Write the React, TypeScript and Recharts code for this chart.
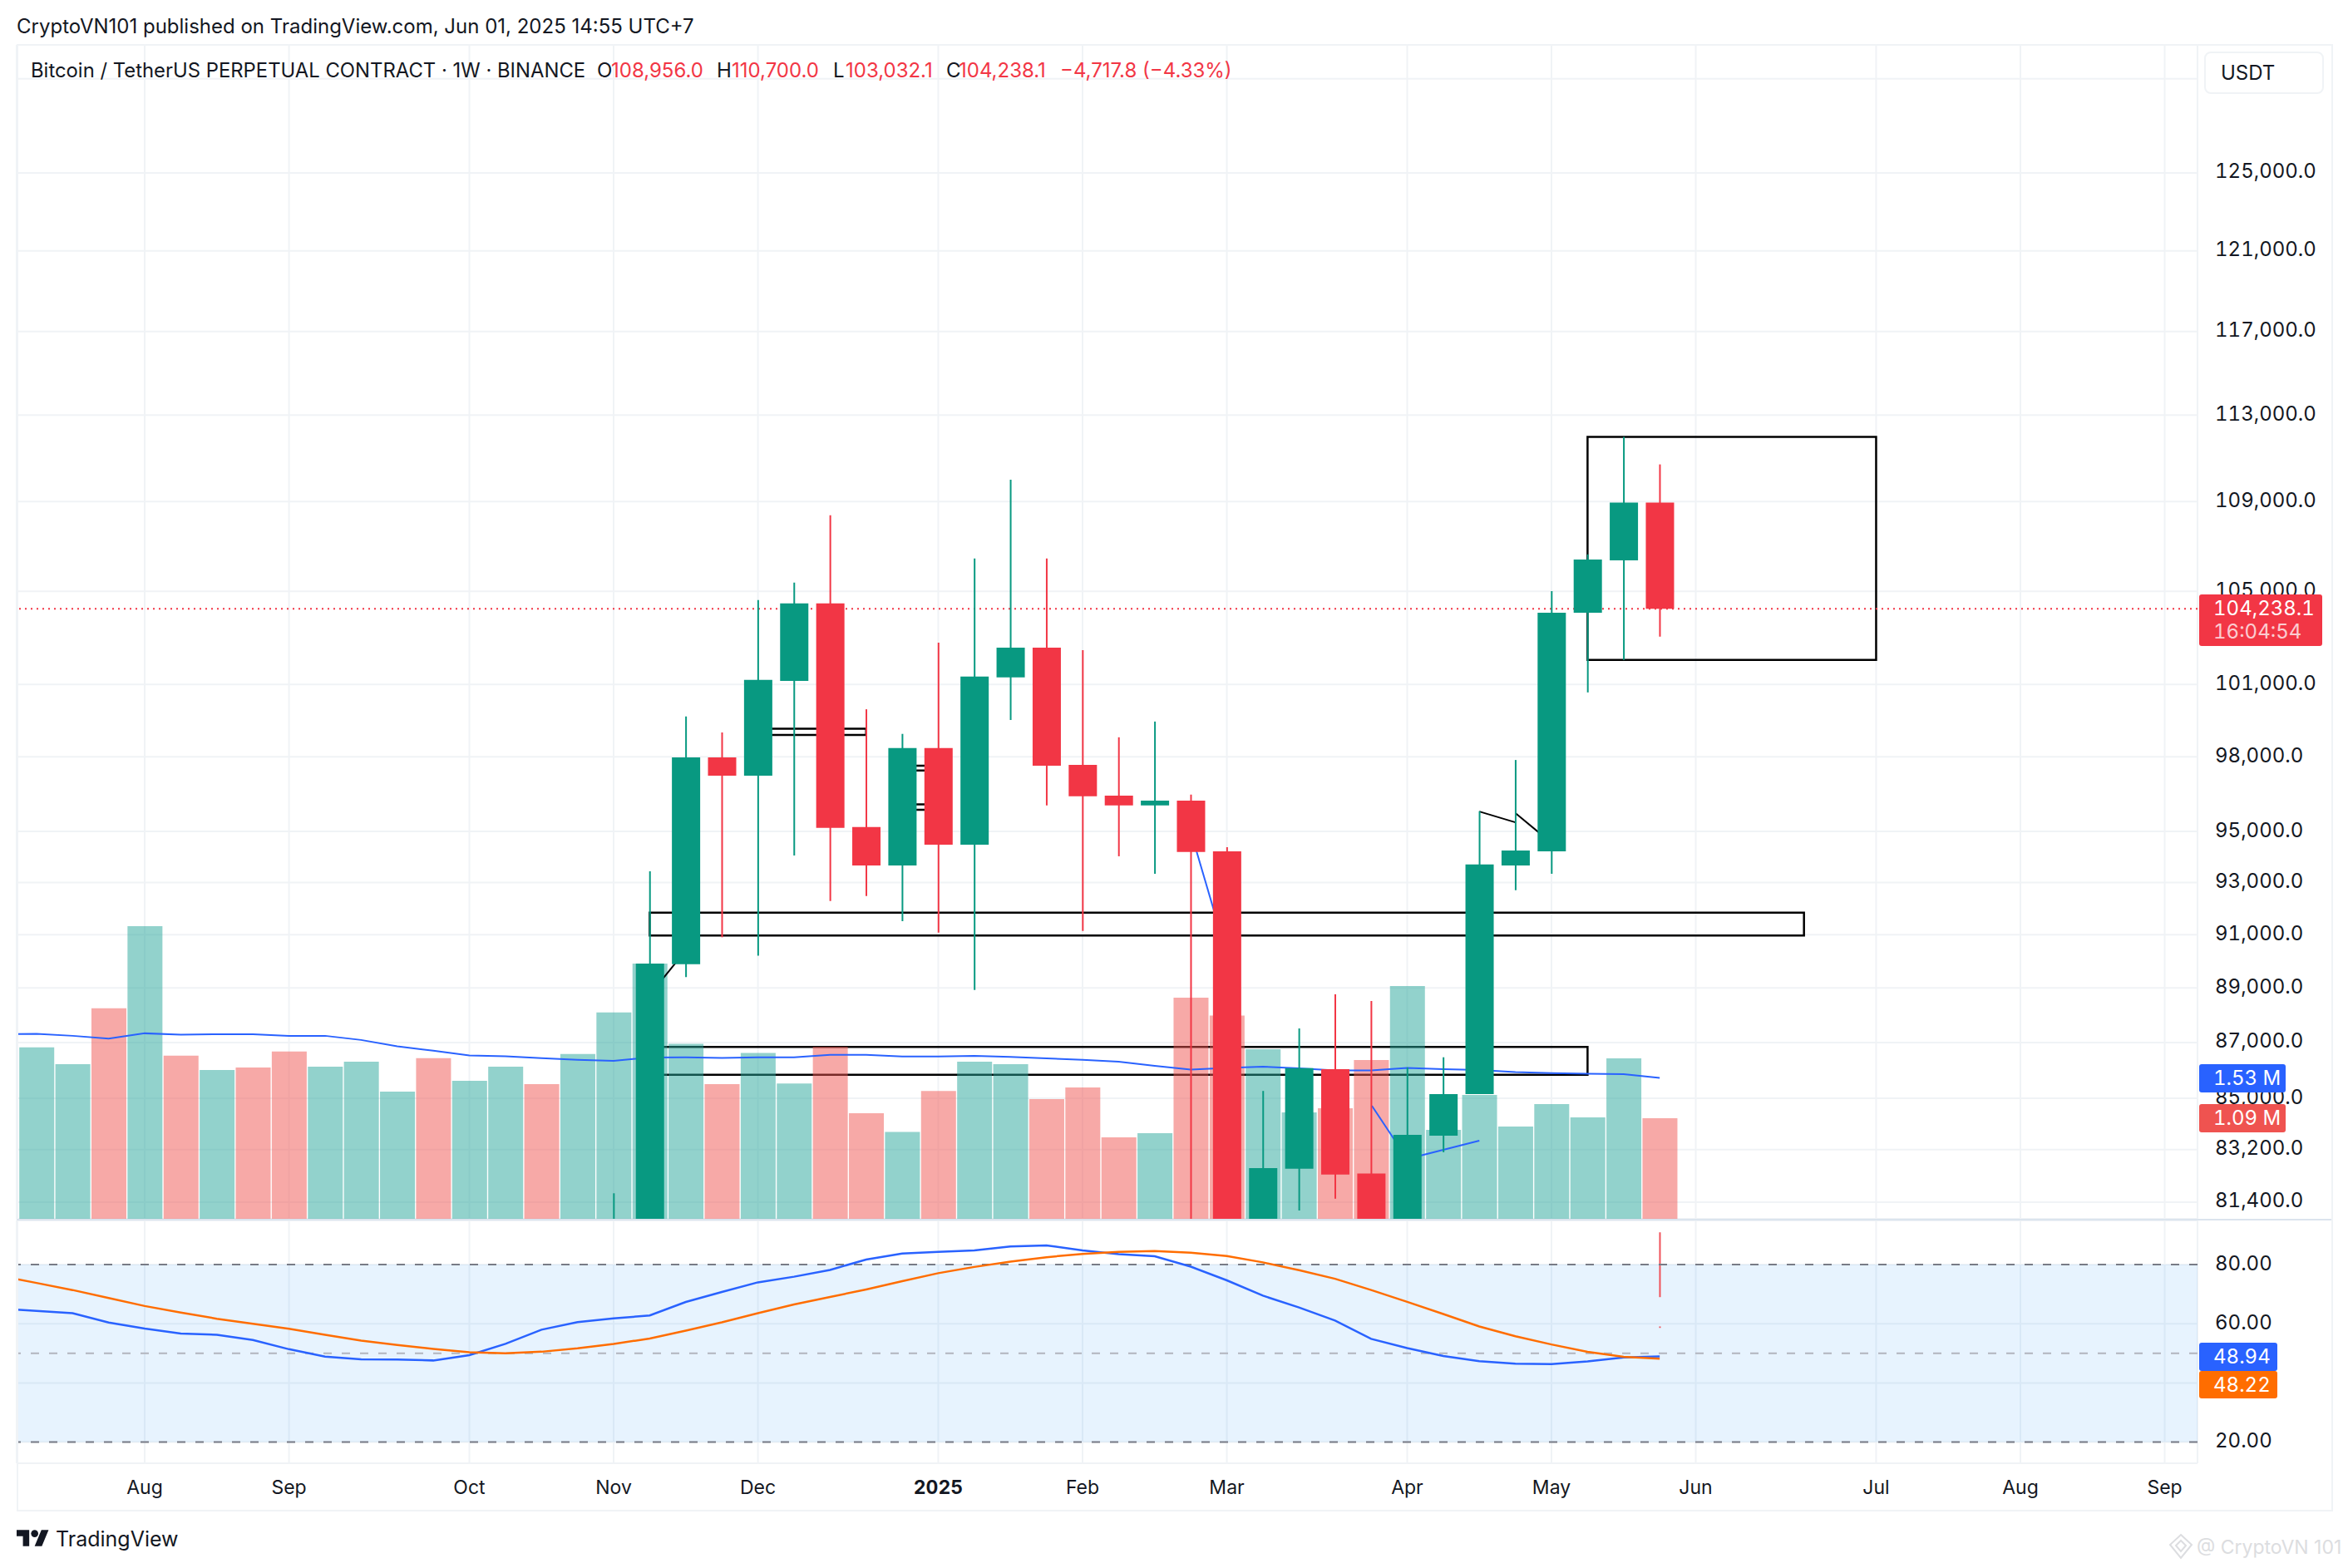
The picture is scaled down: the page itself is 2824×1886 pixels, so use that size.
import React from 'react';
import {
  ComposedChart, Bar, Line, Cell, XAxis, YAxis, CartesianGrid,
  ReferenceArea, ReferenceLine,
} from 'recharts';

const FONT = 'Inter, "Noto Sans", sans-serif';
const INK = '#131722';
const GREEN = '#089981';
const RED = '#f23645';
const VOL_GREEN = 'rgba(38,166,154,0.5)';
const VOL_RED = 'rgba(239,83,80,0.5)';
const GRID = '#f0f3f6';

// one row per week, first row is the sliver cut off by the left edge (week -1)
const volumes = [
  1.865, 1.857, 1.676, 2.281, 3.171, 1.767, 1.613, 1.64, 1.812, 1.649, 1.703, 1.378,
  1.74, 1.496, 1.649, 1.459, 1.785, 2.236, 2.765, 1.896, 1.459, 1.798, 1.466, 1.865,
  1.144, 0.941, 1.384, 1.703, 1.676, 1.297, 1.423, 0.883, 0.928, 2.396, 2.203, 1.838,
  1.153, 1.198, 1.721, 2.523, 0.964, 1.342, 1.0, 1.243, 1.099, 1.739, 1.09,
];
const volumeUp = [
  1, 1, 1, 0, 1, 0, 1, 0, 0, 1, 1, 1, 0, 1, 1, 0, 1, 1, 1, 1, 0, 1, 1, 0,
  0, 1, 0, 1, 1, 0, 0, 0, 1, 0, 0, 1, 1, 0, 0, 1, 1, 1, 1, 1, 1, 1, 0,
];
const volumeMA = [
  2.0, 2.005, 1.983, 1.953, 2.01, 1.996, 2.001, 2.0, 1.983, 1.983, 1.938, 1.87,
  1.821, 1.771, 1.762, 1.74, 1.722, 1.712, 1.748, 1.75, 1.744, 1.75, 1.75, 1.777,
  1.777, 1.76, 1.76, 1.766, 1.755, 1.739, 1.722, 1.703, 1.658, 1.618, 1.635, 1.649,
  1.631, 1.607, 1.607, 1.636, 1.622, 1.613, 1.59, 1.578, 1.573, 1.568, 1.527,
];
const rsi = [
  65.1, 64.35, 63.6, 60.4, 58.4, 56.7, 56.3, 54.5, 51.4, 48.9, 48.0, 47.9,
  47.6, 49.4, 53.2, 58.0, 60.55, 61.8, 62.8, 67.37, 70.74, 74.0, 75.9, 78.2,
  81.7, 83.7, 84.3, 84.8, 86.1, 86.5, 84.8, 83.5, 82.8, 79.3, 74.67, 69.5,
  65.5, 61.1, 54.9, 51.8, 49.1, 47.35, 46.5, 46.4, 47.3, 48.6, 48.94,
];
const rsiMA = [
  76.2, 73.8, 71.4, 68.7, 66.0, 63.8, 61.7, 60.0, 58.3, 56.3, 54.3, 52.8,
  51.5, 50.4, 50.0, 50.55, 51.7, 53.2, 55.0, 57.7, 60.5, 63.6, 66.5, 69.05,
  71.6, 74.4, 77.1, 79.2, 81.0, 82.5, 83.6, 84.3, 84.6, 84.0, 82.9, 80.75,
  78.1, 75.2, 71.4, 67.4, 63.3, 59.1, 55.8, 53.0, 50.5, 48.85, 48.22,
];

// candles start at week 16, everything older sits below the visible price range
const CANDLE_START = 16;
const PRICE_FLOOR = 80835;
const PRICE_TOP = 131850;
const opens = [
  null, PRICE_FLOOR, 89885, 97975, 97235, 101150, 104475, 95175, 93660, 98355, 94475, 101300,
  102560, 97670, 96425, 96035, 96225, 94215, PRICE_FLOOR, 82540, 86040, 82375, PRICE_FLOOR,
  83685, 85150, 93660, 94215, 104065, 106365, 108956,
];
const closes = [
  null, 89910, 97975, 97235, 101190, 104475, 95140, 93660, 98355, 94475, 101330, 102560,
  97640, 96400, 96035, 96225, 94185, PRICE_FLOOR, 82565, 86075, 82340, PRICE_FLOOR, 83715,
  85150, 93700, 94250, 104065, 106400, 108956, 104238.1,
];
const highs = [
  81700, 93435, 99660, 99000, 104615, 105375, 108375, 99960, 98940, 102775, 106440, 110000,
  106440, 102450, 98800, 99450, 96465, 94375, 85260, 87510, 88765, 88520, 86100,
  86465, 95800, 97870, 105010, 106625, 111975, 110700,
];
const lows = [
  PRICE_FLOOR, PRICE_FLOOR, 89400, 90900, 90205, 94050, 92280, 92475, 91510, 91075, 88925, 99515,
  96035, 91135, 94020, 93335, PRICE_FLOOR, PRICE_FLOOR, PRICE_FLOOR, 81115, 81515, PRICE_FLOOR, PRICE_FLOOR,
  83110, 85150, 92700, 93335, 100665, 102035, 103032.1,
];

const priceTicks = [
  130000, 125000, 121000, 117000, 113000, 109000, 105000, 101000, 98000, 95000,
  93000, 91000, 89000, 87000, 85000, 83200, 81400,
];
const rsiTicks = [80, 60, 40, 20];
const monthTicks = [3, 7, 12, 16, 20, 25, 29, 33, 38, 42, 46, 51, 55, 59];
const monthLabels = ['Aug', 'Sep', 'Oct', 'Nov', 'Dec', '2025', 'Feb', 'Mar', 'Apr', 'May', 'Jun', 'Jul', 'Aug', 'Sep'];
const WEEK_DOMAIN = [-0.551, 59.91];

// drawn boxes: [week from, week to, price top, price bottom]
const boxes = [
  [43, 51, 111975, 102035],
  [17, 49, 91840, 90965],
  [17, 43, 86840, 85835],
  [20, 23, 99150, 98900],
  [24, 25, 97640, 97440],
  [24, 25, 96075, 95860],
];
// drawn segments: [week, price, week, price]
const blackSegments = [
  [17, 88740, 18, 90400],
  [40, 95790, 41, 95360],
  [41, 95725, 42, 94545],
];
const blueSegments = [
  [32.16, 94215, 33, 90250],
  [37.02, 84735, 38, 82875],
  [38, 82875, 40, 83510],
];

const chartRows = volumes.map((volume, i) => {
  const c = i - 1 - CANDLE_START;
  const open = c >= 0 ? opens[c] : null;
  const close = c >= 0 ? closes[c] : null;
  return {
    week: i - 1,
    volume,
    volumeMA: volumeMA[i],
    rsi: rsi[i],
    rsiMA: rsiMA[i],
    wick: c >= 0 ? [lows[c], highs[c]] : null,
    body: open != null && close != null ? [Math.min(open, close), Math.max(open, close)] : null,
    up: open != null && close != null ? close > open : c === 0,
    // the stray red mark of the last week in the oscillator pane
    spike: i - 1 === 45 ? [69, 90.9] : null,
    speck: i - 1 === 45 ? [58.6, 59.1] : null,
  };
});

const priceLabel = (v: number) =>
  v === 130000 ? '' : v.toLocaleString('en-US', { minimumFractionDigits: 1 });

function Badge({ top, width, height, color, children }: any) {
  return (
    <div style={{
      position: 'absolute', left: 2645, top, width, height, background: color, borderRadius: 3,
      color: '#fff', fontSize: 24, fontVariantNumeric: 'tabular-nums', lineHeight: height + 'px', paddingLeft: 17, boxSizing: 'border-box',
    }}>
      {children}
    </div>
  );
}

function Txt({ x, y, color = INK, size = 24, children }: any) {
  return (
    <div style={{ position: 'absolute', left: x, top: y, color, fontSize: size, lineHeight: '30px', whiteSpace: 'nowrap' }}>
      {children}
    </div>
  );
}

export default function App() {
  const yTick = { fill: INK, fontSize: 24, fontFamily: FONT, dy: -2 };
  return (
    <div style={{ position: 'absolute', left: 0, top: 0, width: 2824, height: 1886, background: '#fff', overflow: 'hidden', fontFamily: FONT }}>
      <Txt x={20} y={17}>CryptoVN101 published on TradingView.com, Jun 01, 2025 14:55 UTC+7</Txt>

      {/* Price + volume pane */}
      <div style={{ position: 'absolute', left: 0, top: 0, fontVariantNumeric: 'tabular-nums' }}>
        <ComposedChart width={2824} height={1468} data={chartRows} margin={{ top: 54, right: 21, bottom: 2, left: 20 }}>
          <XAxis xAxisId="volX" type="number" dataKey="week" domain={WEEK_DOMAIN} allowDataOverflow ticks={monthTicks} hide />
          <XAxis xAxisId="wickX" type="number" dataKey="week" domain={WEEK_DOMAIN} allowDataOverflow hide />
          <XAxis xAxisId="bodyX" type="number" dataKey="week" domain={WEEK_DOMAIN} allowDataOverflow hide />
          <YAxis
            yAxisId="price" orientation="right" scale="log" width={160}
            domain={[PRICE_FLOOR, PRICE_TOP]} allowDataOverflow ticks={priceTicks} interval={0}
            tickFormatter={priceLabel} axisLine={false} tickLine={false} tickMargin={15} tick={yTick}
          />
          <YAxis yAxisId="vol" domain={[0, 12.72]} hide />
          <CartesianGrid xAxisId="volX" yAxisId="price" stroke={GRID} strokeWidth={2} />

          <Bar xAxisId="volX" yAxisId="vol" dataKey="volume" barSize={42} isAnimationActive={false}>
            {chartRows.map((r, i) => <Cell key={i} fill={volumeUp[i] ? VOL_GREEN : VOL_RED} />)}
          </Bar>
          <Line xAxisId="volX" yAxisId="vol" dataKey="volumeMA" stroke="#2962ff" strokeWidth={2} dot={false} isAnimationActive={false} />

          <ReferenceLine xAxisId="bodyX" yAxisId="price" y={104238.1} stroke={RED} strokeWidth={2} strokeDasharray="2 5" />
          {boxes.map((b, i) => (
            <ReferenceArea key={i} xAxisId="bodyX" yAxisId="price" x1={b[0]} x2={b[1]} y1={b[2]} y2={b[3]}
              fill="none" fillOpacity={0} stroke="#000" strokeWidth={2.5} ifOverflow="visible" />
          ))}
          {blackSegments.map((s, i) => (
            <ReferenceLine key={i} xAxisId="bodyX" yAxisId="price" stroke="#000" strokeWidth={2} ifOverflow="visible"
              segment={[{ x: s[0], y: s[1] }, { x: s[2], y: s[3] }]} />
          ))}
          {blueSegments.map((s, i) => (
            <ReferenceLine key={i} xAxisId="bodyX" yAxisId="price" stroke="#2962ff" strokeWidth={2} ifOverflow="visible"
              segment={[{ x: s[0], y: s[1] }, { x: s[2], y: s[3] }]} />
          ))}

          <Bar xAxisId="wickX" yAxisId="price" dataKey="wick" barSize={2} isAnimationActive={false} zIndex={700}>
            {chartRows.map((r, i) => <Cell key={i} fill={r.up ? GREEN : RED} />)}
          </Bar>
          <Bar xAxisId="bodyX" yAxisId="price" dataKey="body" barSize={34} isAnimationActive={false} zIndex={701}>
            {chartRows.map((r, i) => <Cell key={i} fill={r.up ? GREEN : RED} />)}
          </Bar>
        </ComposedChart>
      </div>

      {/* Oscillator pane with the time axis */}
      <div style={{ position: 'absolute', left: 0, top: 1468, fontVariantNumeric: 'tabular-nums' }}>
        <ComposedChart width={2824} height={348} data={chartRows} margin={{ top: 0, right: 21, bottom: 0, left: 20 }}>
          <XAxis
            xAxisId="x" type="number" dataKey="week" domain={WEEK_DOMAIN} allowDataOverflow ticks={monthTicks} interval={0}
            height={56} axisLine={false} tickLine={false} tickMargin={18}
            tick={(p: any) => {
              const label = monthLabels[monthTicks.indexOf(p.payload.value)];
              return (
                <text x={p.x} y={p.y + 13} textAnchor="middle" fill={INK} fontSize={23} fontFamily={FONT}
                  fontWeight={label === '2025' ? 700 : 400}>{label}</text>
              );
            }}
          />
          <XAxis xAxisId="speckX" orientation="top" type="number" dataKey="week" domain={WEEK_DOMAIN} allowDataOverflow hide />
          <YAxis
            yAxisId="rsi" orientation="right" width={160} domain={[12.87, 94.9]} allowDataOverflow
            ticks={rsiTicks} interval={0} tickFormatter={(v: number) => v.toFixed(2)}
            axisLine={false} tickLine={false} tickMargin={15} tick={yTick}
          />
          <CartesianGrid xAxisId="x" yAxisId="rsi" stroke={GRID} strokeWidth={2} />
          <ReferenceArea xAxisId="x" yAxisId="rsi" y1={20} y2={80} fill="#2196f3" fillOpacity={0.11} />
          <ReferenceLine xAxisId="x" yAxisId="rsi" y={80} stroke="#787b86" strokeWidth={2} strokeDasharray="10 12" />
          <ReferenceLine xAxisId="x" yAxisId="rsi" y={50} stroke="#b2b5be" strokeWidth={2} strokeDasharray="10 12" />
          <ReferenceLine xAxisId="x" yAxisId="rsi" y={20} stroke="#787b86" strokeWidth={2} strokeDasharray="10 12" />
          <Bar xAxisId="x" yAxisId="rsi" dataKey="spike" barSize={2} fill="#f0525a" isAnimationActive={false} />
          <Bar xAxisId="speckX" yAxisId="rsi" dataKey="speck" barSize={2} fill="#f0525a" isAnimationActive={false} />
          <Line xAxisId="x" yAxisId="rsi" dataKey="rsi" stroke="#2962ff" strokeWidth={2.5} dot={false} isAnimationActive={false} />
          <Line xAxisId="x" yAxisId="rsi" dataKey="rsiMA" stroke="#ff6d00" strokeWidth={2.5} dot={false} isAnimationActive={false} />
        </ComposedChart>
      </div>

      {/* Frame */}
      <div style={{ position: 'absolute', left: 20, top: 53, width: 2782, height: 1761, border: '2px solid ' + GRID, pointerEvents: 'none' }} />
      <div style={{ position: 'absolute', left: 20, top: 1466, width: 2784, height: 2, background: '#dbe4ee' }} />

      {/* Legend */}
      <Txt x={37} y={70} size={23.85}>Bitcoin / TetherUS PERPETUAL CONTRACT · 1W · BINANCE</Txt>
      <Txt x={718} y={70}>O</Txt><Txt x={735} y={70} color={RED}>108,956.0</Txt>
      <Txt x={862} y={70}>H</Txt><Txt x={880} y={70} color={RED}>110,700.0</Txt>
      <Txt x={1002} y={70}>L</Txt><Txt x={1017} y={70} color={RED}>103,032.1</Txt>
      <Txt x={1138} y={70}>C</Txt><Txt x={1153} y={70} color={RED}>104,238.1</Txt>
      <Txt x={1275} y={70} color={RED}>−4,717.8 (−4.33%)</Txt>

      <div style={{
        position: 'absolute', left: 2651, top: 62, width: 144, height: 51, boxSizing: 'border-box', border: '2px solid ' + GRID,
        borderRadius: 8, fontSize: 24, lineHeight: '47px', paddingLeft: 18, color: INK,
      }}>USDT</div>

      {/* Last value badges */}
      <div style={{
        position: 'absolute', left: 2645, top: 715, width: 148, height: 62, background: RED, borderRadius: 3,
        color: '#fff', fontSize: 24, fontVariantNumeric: 'tabular-nums', paddingLeft: 17, boxSizing: 'border-box', lineHeight: '28px', paddingTop: 3,
      }}>
        <div>104,238.1</div>
        <div style={{ opacity: 0.75 }}>16:04:54</div>
      </div>
      <Badge top={1280} width={104} height={34} color="#2962ff">1.53 M</Badge>
      <Badge top={1328} width={104} height={34} color="#ef5350">1.09 M</Badge>
      <Badge top={1615} width={94} height={34} color="#2962ff">48.94</Badge>
      <Badge top={1649} width={94} height={33} color="#ff6d00">48.22</Badge>

      {/* Footer */}
      <svg style={{ position: 'absolute', left: 20, top: 1840 }} width={39} height={20} viewBox="0 4 36 18">
        <path d="M14 22H7V11H0V4h14v18zM28 22h-8l7.5-18h8L28 22z" fill={INK} />
        <circle cx={20} cy={8} r={4} fill={INK} />
      </svg>
      <Txt x={67} y={1836} size={25}>TradingView</Txt>
      <svg style={{ position: 'absolute', left: 2608, top: 1844 }} width={30} height={34} viewBox="0 0 30 34">
        <path d="M15 2L28 14L15 30L2 14Z M15 9L21 15L15 22L9 15Z" fill="none" stroke="#dcdde0" strokeWidth={2} />
      </svg>
      <Txt x={2642} y={1846} size={23} color="#dcdde0">@ CryptoVN 101</Txt>
    </div>
  );
}
